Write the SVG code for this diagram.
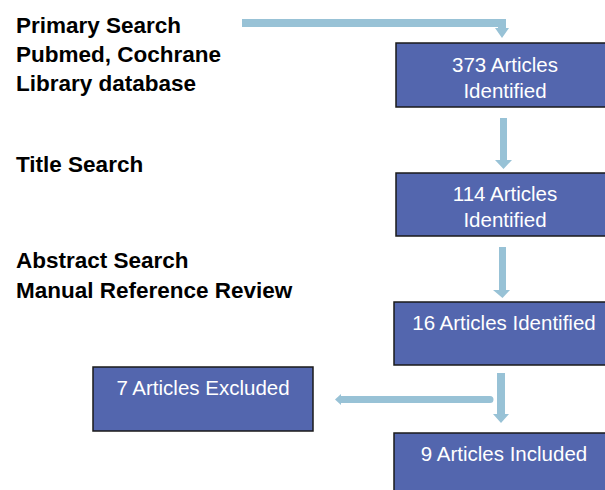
<svg xmlns="http://www.w3.org/2000/svg" width="605" height="490" viewBox="0 0 605 490">
<style>
.lbl{font-family:"Liberation Sans",Arial,sans-serif;font-weight:bold;font-size:22.5px;fill:#000}
.box{fill:#5366ae;stroke:#1a1a1a;stroke-width:1.5}
.bt{font-family:"Liberation Sans",Arial,sans-serif;font-size:20.5px;fill:#fff;text-anchor:middle}
.ar{fill:#98c2d6;stroke:none}
</style>
<rect width="605" height="490" fill="#fff"/>
<g id="labels">
<text class="lbl" x="16" y="33">Primary Search</text>
<text class="lbl" x="16" y="62">Pubmed, Cochrane</text>
<text class="lbl" x="16" y="91">Library database</text>
<text class="lbl" x="16" y="172">Title Search</text>
<text class="lbl" x="16" y="268">Abstract Search</text>
<text class="lbl" x="16" y="298">Manual Reference Review</text>
</g>
<g id="connectors">
<path class="ar" d="M242 19 H506 V28 H509 L502 38 L495 28 H498 V27 H242 Z"/>
<path class="ar" d="M500 118 H507 V160 H512 L503.5 169 L495 160 H500 Z"/>
<path class="ar" d="M499 247 H506 V290 H510 L502.5 298 L493 290 H499 Z"/>
<path class="ar" d="M497 373 H505 V414 H509 L501 423 L493 414 H497 Z"/>
<path class="ar" d="M490 396 A3.5 3.5 0 0 1 490 403 H341 L341 405 L335 399.5 L341 394 L341 396 Z"/>
</g>
<g id="n1"><rect class="box" x="396" y="43" width="220" height="64"/><text class="bt" x="505" y="72">373 Articles</text><text class="bt" x="505" y="98">Identified</text></g>
<g id="n2"><rect class="box" x="396" y="173" width="220" height="63"/><text class="bt" x="505" y="201">114 Articles</text><text class="bt" x="505" y="227">Identified</text></g>
<g id="n3"><rect class="box" x="394" y="302" width="220" height="63"/><text class="bt" x="504" y="330">16 Articles Identified</text></g>
<g id="n4"><rect class="box" x="93" y="367" width="220" height="64"/><text class="bt" x="203" y="395">7 Articles Excluded</text></g>
<g id="n5"><rect class="box" x="394" y="433" width="220" height="64"/><text class="bt" x="504" y="461">9 Articles Included</text></g>
</svg>
